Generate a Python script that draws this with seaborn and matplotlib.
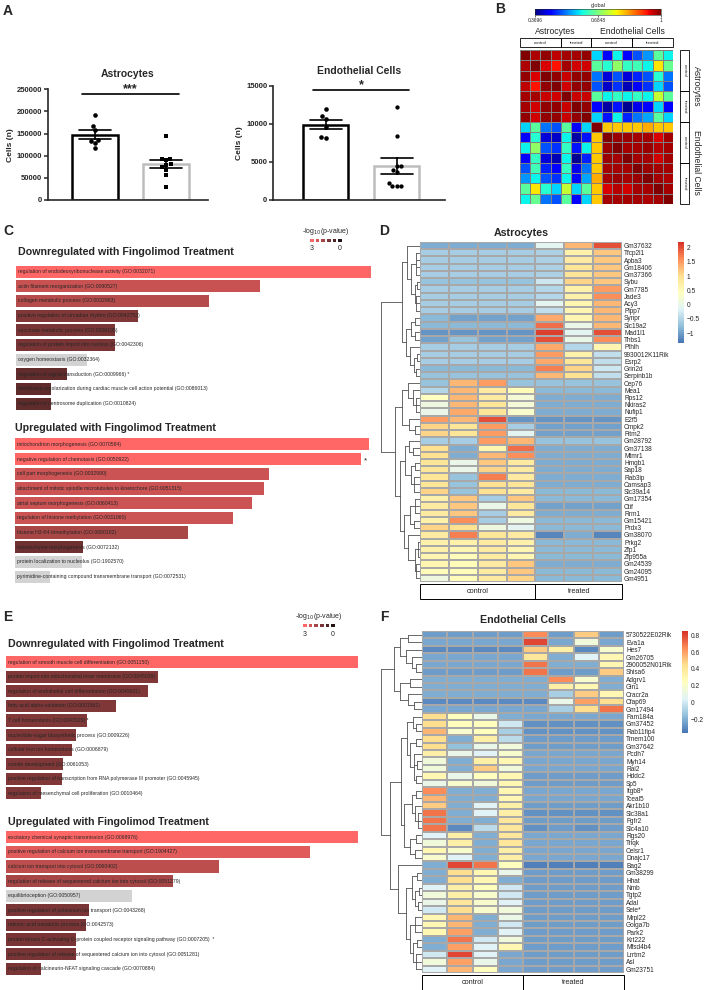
import numpy as np
import pandas as pd
import matplotlib
matplotlib.use("Agg")
import matplotlib.pyplot as plt
import seaborn as sns
from matplotlib.colors import LinearSegmentedColormap
from matplotlib.patches import Rectangle

# --------------------------
# Data
# --------------------------
groups = ["control", "treated"]

# A: cell counts
astro_control = [193000, 167000, 158000, 135000, 133000, 128000, 117000]
astro_treated = [144000, 93000, 93000, 91000, 81000, 80000, 74000, 68000, 57000, 30000]
endo_control = [12000, 11000, 10600, 9600, 8300, 8100]
endo_treated = [12300, 8400, 4500, 4500, 4000, 3700, 2200, 1900, 1800, 1800]
astro_yticks = [0, 50000, 100000, 150000, 200000, 250000]
endo_yticks = [0, 5000, 10000, 15000]

# B: sample correlation (7 astrocyte samples, 8 endothelial samples)
corr_astro = [
    [1.00, 0.975, 0.99, 0.965, 0.98, 0.98, 0.99],
    [0.975, 1.00, 0.95, 0.93, 0.98, 0.955, 0.955],
    [0.99, 0.95, 1.00, 0.99, 0.96, 0.99, 0.99],
    [0.965, 0.93, 0.99, 1.00, 0.955, 0.99, 0.99],
    [0.98, 0.98, 0.96, 0.955, 1.00, 0.96, 0.96],
    [0.98, 0.955, 0.99, 0.99, 0.96, 1.00, 0.99],
    [0.99, 0.955, 0.99, 0.99, 0.96, 0.99, 1.00],
]
corr_cross = [
    [0.58, 0.45, 0.60, 0.45, 0.50, 0.54, 0.66, 0.60],
    [0.66, 0.62, 0.70, 0.63, 0.64, 0.60, 0.79, 0.67],
    [0.52, 0.42, 0.50, 0.42, 0.47, 0.50, 0.62, 0.52],
    [0.50, 0.41, 0.48, 0.40, 0.45, 0.48, 0.58, 0.50],
    [0.66, 0.60, 0.63, 0.60, 0.63, 0.60, 0.74, 0.66],
    [0.45, 0.39, 0.46, 0.38, 0.43, 0.45, 0.58, 0.45],
    [0.58, 0.46, 0.60, 0.47, 0.52, 0.55, 0.66, 0.58],
]
corr_endo = [
    [1.00, 0.81, 0.81, 0.81, 0.81, 0.83, 0.81, 0.81],
    [0.81, 1.00, 0.985, 0.985, 0.98, 0.98, 0.95, 0.98],
    [0.81, 0.985, 1.00, 0.98, 0.98, 0.985, 0.97, 0.98],
    [0.81, 0.985, 0.98, 1.00, 0.98, 0.98, 0.955, 0.98],
    [0.81, 0.98, 0.98, 0.98, 1.00, 0.985, 0.98, 0.98],
    [0.83, 0.98, 0.985, 0.98, 0.985, 1.00, 0.98, 0.975],
    [0.81, 0.95, 0.97, 0.955, 0.98, 0.98, 1.00, 0.98],
    [0.81, 0.98, 0.98, 0.98, 0.98, 0.975, 0.98, 1.00],
]
corr_ticks = [0.3696, 0.6848, 1]

# C / E: GO terms, bar score and -log10(p) (nan = not significant, grey)
c_down_terms = [
    "regulation of endodeoxyribonuclease activity (GO:0032071)",
    "actin filament reorganization (GO:0090527)",
    "collagen metabolic process (GO:0032963)",
    "positive regulation of circadian rhythm (GO:0042753)",
    "succinate metabolic process (GO:0006105)",
    "regulation of protein import into nucleus (GO:0042306)",
    "oxygen homeostasis (GO:0032364)",
    "regulation of signal transduction (GO:0009966) *",
    "membrane repolarization during cardiac muscle cell action potential (GO:0086013)",
    "regulation of centrosome duplication (GO:0010824)",
]
c_down_score = [106.5, 73.1, 58.0, 36.7, 29.7, 29.7, 21.2, 15.2, 10.5, 10.5]
c_down_logp = [3.0, 2.25, 2.0, 1.3, 1.2, 1.2, np.nan, 0.9, 0.85, 0.85]

c_up_terms = [
    "mitochondrion morphogenesis (GO:0070584)",
    "negative regulation of chemotaxis (GO:0050922)",
    "cell part morphogenesis (GO:0032990)",
    "attachment of mitotic spindle microtubules to kinetochore (GO:0051315)",
    "atrial septum morphogenesis (GO:0060413)",
    "regulation of histone methylation (GO:0031060)",
    "histone H3-K4 trimethylation (GO:0080182)",
    "mesenchyme morphogenesis (GO:0072132)",
    "protein localization to nucleolus (GO:1902570)",
    "pyrimidine-containing compound transmembrane transport (GO:0072531)",
]
c_up_score = [106.3, 103.8, 76.4, 74.9, 71.3, 65.6, 52.0, 20.5, 20.1, 10.5]
c_up_logp = [3.0, 3.0, 2.3, 2.3, 2.3, 2.3, 1.85, 1.05, np.nan, np.nan]
c_up_star = [False, True, False, False, False, False, False, False, False, False]

e_down_terms = [
    "regulation of smooth muscle cell differentiation (GO:0051150)",
    "protein import into mitochondrial inner membrane (GO:0045039)",
    "regulation of endothelial cell differentiation (GO:0045601)",
    "fatty acid alpha-oxidation (GO:0001561)",
    "T cell homeostasis (GO:0043029) *",
    "nucleotide-sugar biosynthetic process (GO:0009226)",
    "cellular iron ion homeostasis (GO:0006879)",
    "somite development (GO:0061053)",
    "positive regulation of transcription from RNA polymerase III promoter (GO:0045945)",
    "regulation of mesenchymal cell proliferation (GO:0010464)",
]
e_down_score = [105.7, 45.5, 42.5, 33.1, 24.3, 21.1, 19.7, 17.1, 16.7, 10.4]
e_down_logp = [3.0, 1.3, 1.3, 1.3, 1.3, 1.3, 1.3, 1.3, 1.3, 1.3]

e_up_terms = [
    "excitatory chemical synaptic transmission (GO:0098976)",
    "positive regulation of calcium ion transmembrane transport (GO:1904427)",
    "calcium ion transport into cytosol (GO:0060402)",
    "regulation of release of sequestered calcium ion into cytosol (GO:0051279)",
    "equilibrioception (GO:0050957)",
    "positive regulation of potassium ion transport (GO:0043268)",
    "retinoic acid metabolic process (GO:0042573)",
    "protein kinase C-activating G-protein coupled receptor signaling pathway (GO:0007205)  *",
    "positive regulation of release of sequestered calcium ion into cytosol (GO:0051281)",
    "regulation of calcineurin-NFAT signaling cascade (GO:0070884)",
]
e_up_score = [105.5, 91.2, 63.8, 50.2, 37.8, 24.9, 23.9, 20.9, 20.9, 10.4]
e_up_logp = [3.0, 2.6, 2.1, 1.8, np.nan, 1.2, 1.2, 1.2, 1.2, 1.2]

legend_levels = [3.0, 2.4, 1.8, 1.2, 0.6, 0.0]

# D: astrocyte z-scores (4 control, 3 treated)
d_genes = ["Gm37632", "Tfcp2l1", "Apba3", "Gm18406", "Gm37366", "Sybu", "Gm7785", "Jade3",
           "Acy3", "Plpp7", "Synpr", "Slc19a2", "Mad1l1", "Thbs1", "Pthlh", "9930012K11Rik",
           "Esrp2", "Grin2d", "Serpinb1b", "Cep76", "Mea1", "Rps12", "Nkiras2", "Nufip1",
           "E2f5", "Cmpk2", "Fitm2", "Gm28792", "Gm37138", "Mtmr1", "Hmgb1", "Sap18",
           "Rab3ip", "Camsap3", "Slc39a14", "Gm17354", "Ctif", "Rrm1", "Gm15421", "Prdx3",
           "Gm38070", "Prkg2", "Zfp1", "Zfp955a", "Gm24539", "Gm24095", "Gm4951"]
d_values = [
    [-0.9, -0.9, -0.9, -0.9, -0.1, 1.3, 2.0],
    [-0.6, -0.6, -0.6, -0.6, -0.55, 0.7, 1.2],
    [-0.6, -0.6, -0.6, -0.6, -0.55, 0.8, 1.2],
    [-0.6, -0.6, -0.6, -0.6, -0.55, 0.9, 1.2],
    [-0.6, -0.6, -0.6, -0.6, -0.55, 0.9, 1.2],
    [-0.7, -0.7, -0.7, -0.7, -0.3, 1.1, 1.2],
    [-0.6, -0.6, -0.6, -0.6, -0.5, 0.7, 1.5],
    [-0.6, -0.6, -0.6, -0.6, -0.5, 0.7, 1.6],
    [-0.6, -0.6, -0.6, -0.6, -0.1, 0.6, 1.3],
    [-0.6, -0.6, -0.6, -0.6, -0.4, 0.6, 1.3],
    [-0.8, -1.0, -1.0, -1.0, 1.4, 0.6, 1.3],
    [-0.8, -0.8, -0.8, -0.8, 1.8, 0.0, 1.3],
    [-1.1, -1.1, -1.1, -1.1, 2.1, -0.1, 2.0],
    [-1.0, -0.7, -1.0, -1.0, 2.0, 0.0, 1.6],
    [-0.6, -0.6, -0.6, -0.6, 1.4, -0.5, 0.6],
    [-0.6, -0.6, -0.6, -0.6, 1.5, 0.7, -0.4],
    [-0.6, -0.6, -0.6, -0.6, 1.4, 0.9, -0.4],
    [-0.8, -0.8, -0.8, -0.8, 1.7, 1.1, -0.3],
    [-0.7, -0.7, -0.7, -0.7, 1.3, 1.0, -0.4],
    [-0.7, 1.3, 1.5, -0.7, -0.7, -0.7, -0.7],
    [-0.5, 1.3, 0.8, 0.5, -0.8, -0.8, -0.8],
    [0.4, 1.3, 0.8, 0.2, -0.9, -0.9, -0.9],
    [0.1, 1.3, 0.9, 0.2, -0.9, -0.9, -0.9],
    [0.0, 1.4, 0.9, 0.3, -0.9, -0.9, -0.9],
    [1.5, 1.3, 2.0, -1.1, -1.1, -1.1, -1.1],
    [1.1, 0.9, 1.5, -0.6, -1.0, -1.0, -1.0],
    [1.1, 0.9, 1.5, -0.1, -1.0, -1.0, -1.0],
    [-0.6, -0.6, 1.5, 1.3, -0.7, -0.7, -0.7],
    [1.0, -0.9, 0.6, 1.8, -0.9, -0.9, -0.9],
    [1.0, -0.9, 1.3, 1.6, -0.9, -0.9, -0.9],
    [0.9, 0.0, 1.2, 0.8, -0.9, -0.9, -0.9],
    [0.9, 0.0, 1.1, 0.8, -0.9, -0.9, -0.9],
    [0.9, -0.7, 1.7, 0.8, -0.9, -0.9, -0.9],
    [0.9, -0.7, 1.0, 0.9, -0.9, -0.9, -0.9],
    [1.1, -0.7, 1.0, 0.8, -0.8, -0.8, -0.8],
    [0.7, 1.2, -0.6, 1.2, -0.8, -0.8, -0.8],
    [0.8, 1.2, 0.0, 0.9, -1.0, -1.0, -1.0],
    [0.8, 1.2, -0.6, 0.8, -0.9, -0.9, -0.9],
    [0.7, 1.6, -0.6, 0.1, -0.8, -0.8, -0.8],
    [1.1, 1.0, 0.1, -0.1, -0.8, -0.8, -0.8],
    [0.8, 1.7, 0.9, 0.8, -1.2, -0.9, -1.2],
    [0.7, 0.7, 0.8, 0.7, -0.8, -0.8, -0.8],
    [0.7, 0.6, 0.8, 0.6, -0.8, -0.8, -0.8],
    [0.6, 0.5, 0.8, 0.6, -0.8, -0.8, -0.8],
    [0.6, 0.5, 0.8, 1.2, -0.9, -0.9, -0.9],
    [0.5, 0.5, 0.8, 1.2, -0.8, -0.8, -0.8],
    [0.1, 0.5, 0.8, 1.1, -0.8, -0.8, -0.8],
]
d_ticks = [-1, -0.5, 0, 0.5, 1, 1.5, 2]
# row dendrogram: (merge height, child, child, ...), leaves are row indices
d_tree = (1.0,
          (0.46,
           (0.33, 0, (0.22, (0.1, 1, 2, 3, 4), (0.14, (0.08, 5, 6), (0.1, 7, 8, 9)))),
           (0.36, (0.22, (0.12, 10, 11), (0.12, 12, 13)),
            (0.25, 14, (0.15, (0.08, 15, 16), (0.1, 17, 18))))),
          (0.63,
           (0.45, (0.3, 19, (0.18, 20, (0.1, 21, 22, 23))), (0.28, 24, (0.12, 25, 26))),
           (0.5,
            (0.38, (0.28, 27, (0.18, 28, 29)), (0.22, (0.12, 30, 31), (0.15, 32, 33, 34))),
            (0.4, (0.25, (0.12, 35, 36, 37), (0.15, 38, 39)),
             (0.3, 40, (0.14, (0.06, 41, 42, 43), (0.1, 44, 45, 46)))))))

# F: endothelial z-scores (4 control, 4 treated)
f_genes = ["5730522E02Rik", "Eva1a", "Hes7", "Gm26705", "2900052N01Rik", "Shisa6", "Adgrv1",
           "Gin1", "Cracr2a", "Cfap69", "Gm17494", "Fam184a", "Gm37452", "Rab11fip4",
           "Tmem100", "Gm37642", "Pcdh7", "Myh14", "Rai2", "Hddc2", "Sp5", "Itgb8*", "Tceal5",
           "Akr1b10", "Slc38a1", "Fgfr2", "Slc4a10", "Rgs20", "Triqk", "Celsr1", "Dnajc17",
           "Bag2", "Gm38299", "Hhat", "Nmb", "Tgtp2", "Adal", "Sele*", "Mrpl22", "Golga7b",
           "Park2", "Krt222", "Mfsd4b4", "Lrrtm2", "Asl", "Gm23751"]
f_values = [
    [-0.25, -0.25, -0.25, -0.25, 0.65, -0.25, 0.5, -0.25],
    [-0.22, -0.22, -0.22, -0.22, 0.8, -0.22, 0.15, -0.22],
    [-0.3, -0.3, -0.3, -0.3, 0.5, 0.35, -0.3, 0.2],
    [-0.22, -0.22, -0.22, -0.22, 0.4, -0.2, 0.05, 0.3],
    [-0.22, -0.22, -0.22, -0.22, 0.7, -0.2, -0.2, 0.3],
    [-0.25, -0.25, -0.25, -0.25, 0.7, -0.25, -0.25, 0.5],
    [-0.2, -0.2, -0.2, -0.2, -0.2, 0.65, 0.2, -0.2],
    [-0.2, -0.2, -0.2, -0.2, -0.2, 0.35, 0.3, -0.2],
    [-0.2, -0.2, -0.2, -0.2, -0.2, -0.1, 0.5, 0.3],
    [-0.3, -0.3, -0.3, -0.3, -0.3, 0.1, 0.6, 0.45],
    [-0.22, -0.22, -0.22, -0.22, -0.22, -0.1, 0.45, 0.7],
    [0.45, 0.25, 0.1, -0.2, -0.22, -0.22, -0.22, -0.22],
    [0.45, 0.25, 0.25, 0.0, -0.28, -0.28, -0.28, -0.28],
    [0.55, 0.2, 0.25, -0.1, -0.28, -0.28, -0.28, -0.28],
    [0.45, -0.2, 0.35, -0.05, -0.25, -0.25, -0.25, -0.25],
    [0.45, -0.15, 0.1, 0.15, -0.25, -0.25, -0.25, -0.25],
    [0.35, 0.1, 0.05, 0.2, -0.22, -0.22, -0.22, -0.22],
    [0.15, -0.2, 0.35, 0.3, -0.22, -0.22, -0.22, -0.22],
    [0.15, -0.2, 0.5, 0.15, -0.22, -0.22, -0.22, -0.22],
    [0.3, 0.1, 0.25, 0.3, -0.25, -0.25, -0.25, -0.25],
    [0.1, 0.2, 0.15, 0.3, -0.25, -0.25, -0.25, -0.25],
    [0.65, -0.2, -0.2, 0.3, -0.22, -0.22, -0.22, -0.22],
    [0.55, -0.2, -0.2, 0.3, -0.22, -0.22, -0.22, -0.22],
    [0.5, -0.2, 0.05, 0.35, -0.25, -0.25, -0.25, -0.25],
    [0.7, -0.2, 0.05, 0.35, -0.28, -0.28, -0.28, -0.28],
    [0.7, -0.2, -0.2, 0.4, -0.25, -0.25, -0.25, -0.25],
    [0.7, -0.3, -0.05, 0.4, -0.28, -0.25, -0.28, -0.25],
    [0.05, 0.35, -0.2, 0.4, -0.22, -0.22, -0.22, -0.22],
    [0.15, 0.35, -0.2, 0.4, -0.22, -0.22, -0.22, -0.22],
    [0.3, 0.2, -0.2, 0.35, -0.22, -0.22, -0.22, -0.22],
    [0.2, 0.05, -0.2, 0.35, -0.22, -0.22, -0.22, -0.22],
    [-0.2, 0.8, 0.7, 0.25, -0.33, -0.33, -0.33, -0.33],
    [-0.2, 0.45, 0.3, 0.1, -0.25, -0.25, -0.25, -0.25],
    [-0.2, 0.45, 0.3, -0.2, -0.25, -0.25, -0.25, -0.25],
    [0.05, 0.35, 0.25, 0.0, -0.25, -0.25, -0.25, -0.25],
    [0.15, 0.35, 0.2, 0.0, -0.25, -0.25, -0.25, -0.25],
    [0.1, 0.4, 0.2, 0.05, -0.25, -0.25, -0.25, -0.25],
    [0.0, 0.45, 0.2, 0.15, -0.25, -0.25, -0.25, -0.25],
    [0.3, 0.55, -0.2, 0.1, -0.25, -0.25, -0.25, -0.25],
    [0.3, 0.55, -0.2, 0.0, -0.25, -0.25, -0.25, -0.25],
    [0.3, 0.6, -0.2, 0.05, -0.25, -0.25, -0.25, -0.25],
    [-0.2, 0.7, 0.0, 0.15, -0.25, -0.25, -0.25, -0.25],
    [-0.2, 0.6, 0.05, 0.3, -0.25, -0.25, -0.25, -0.25],
    [0.0, 0.8, 0.05, -0.22, -0.25, -0.25, -0.25, -0.25],
    [0.15, 0.6, 0.1, -0.22, -0.25, -0.25, -0.25, -0.25],
    [0.05, 0.55, 0.25, -0.22, -0.25, -0.25, -0.25, -0.25],
]
f_ticks = [-0.2, 0, 0.2, 0.4, 0.6, 0.8]
f_tree = (1.0,
          (0.69,
           (0.54, (0.35, 0, 1), (0.4, 2, (0.25, 3, (0.15, 4, 5)))),
           (0.54, (0.3, 6, 7), (0.35, 8, (0.2, 9, 10)))),
          (0.78,
           (0.5,
            (0.36, (0.22, 11, (0.15, 12, 13)),
             (0.28, (0.15, 14, 15), (0.2, 16, (0.12, 17, 18), (0.15, 19, 20)))),
            (0.43, (0.25, (0.15, 21, 22), (0.18, 23, (0.1, 24, 25, 26))),
             (0.3, (0.15, 27, 28), (0.18, 29, 30)))),
           (0.59, 31,
            (0.4, (0.25, (0.12, 32, 33), (0.18, (0.08, 34, 35), (0.1, 36, 37))),
             (0.3, (0.18, 38, 39, 40), (0.22, (0.12, 41, 42), (0.15, 43, 44, 45)))))))

# --------------------------
# Figure setup
# --------------------------
sns.set_theme(style="ticks")
plt.rcParams["font.family"] = ["Liberation Sans", "DejaVu Sans"]
W, H = 704, 990
fig = plt.figure(figsize=(W / 100, H / 100), dpi=100)


def px_axes(x0, y0, x1, y1):
    return fig.add_axes([x0 / W, 1 - y1 / H, (x1 - x0) / W, (y1 - y0) / H])


def px_text(x, y, s, **kw):
    fig.text(x / W, 1 - y / H, s, **kw)


pheat_cmap = LinearSegmentedColormap.from_list(
    "pheat", ["#4575B4", "#91BFDB", "#E0F3F8", "#FFFFBF", "#FEE090", "#FC8D59", "#D73027"])
p_cmap = LinearSegmentedColormap.from_list("pval", ["#201414", "#ff6666"])

for letter, x, y in [("A", 8, 11), ("B", 500, 9), ("C", 8, 231), ("D", 384, 231),
                     ("E", 8, 617), ("F", 384, 617)]:
    px_text(x, y, letter, fontsize=10, fontweight="bold", ha="center", va="center")

# --------------------------
# A: cell counts
# --------------------------
def count_panel(ax, ctrl, trt, yticks, title, trt_marker, sig_y, star_y, stars, xlim):
    df = pd.DataFrame({"group": ["control"] * len(ctrl) + ["treated"] * len(trt),
                       "cells": ctrl + trt})
    sns.barplot(data=df, x="group", y="cells", hue="group", order=groups, hue_order=groups,
                palette=["black", "#bdbdbd"], saturation=1, fill=False, width=0.64,
                errorbar="se", capsize=0.45, err_kws={"color": "black", "linewidth": 1.2},
                linewidth=1.8, legend=False, ax=ax)
    sns.swarmplot(data=df[df.group == "control"], x="group", y="cells", order=groups,
                  color="black", size=3.3, marker="o", ax=ax)
    sns.swarmplot(data=df[df.group == "treated"], x="group", y="cells", order=groups,
                  color="black", size=3.1, marker=trt_marker, ax=ax)
    ax.set_xlim(*xlim)
    ax.set_ylim(0, yticks[-1])
    ax.set_xticks([])
    ax.set_xlabel("")
    ax.set_yticks(yticks)
    ax.set_yticklabels([str(v) for v in yticks], fontsize=5.5, fontweight="bold")
    ax.set_ylabel("Cells (n)", fontsize=6, fontweight="bold", labelpad=2)
    ax.tick_params(axis="y", length=3, width=1.1, pad=1)
    sns.despine(ax=ax)
    for sp in ["left", "bottom"]:
        ax.spines[sp].set_linewidth(1.2)
    ax.set_title(title, fontsize=7.5, fontweight="bold", pad=9)
    ax.plot([-0.18, 1.18], [sig_y, sig_y], color="black", lw=1.2, clip_on=False)
    ax.text(0.5, star_y, stars, ha="center", va="center", fontsize=9, fontweight="bold")


ax_a1 = px_axes(48, 89.3, 208, 200)
count_panel(ax_a1, astro_control, astro_treated, astro_yticks, "Astrocytes", "s",
            238700, 250000, "***", (-0.66, 1.59))
ax_a2 = px_axes(273, 86, 445, 200)
count_panel(ax_a2, endo_control, endo_treated, endo_yticks, "Endothelial Cells", "o",
            14470, 15100, "*", (-0.74, 1.68))

# --------------------------
# B: correlation heatmap
# --------------------------
corr = np.block([[np.array(corr_astro), np.array(corr_cross)],
                 [np.array(corr_cross).T, np.array(corr_endo)]])
ax_b = px_axes(520, 50, 673, 204)
cax_b = px_axes(535, 9, 661, 15)
sns.heatmap(corr, cmap="jet", vmin=corr_ticks[0], vmax=1, linewidths=0.7, linecolor="#808080",
            xticklabels=False, yticklabels=False, cbar_ax=cax_b,
            cbar_kws={"orientation": "horizontal"}, ax=ax_b)
cb = ax_b.collections[0].colorbar
cb.set_ticks(corr_ticks)
cb.set_ticklabels([str(t) for t in corr_ticks])
cb.ax.tick_params(labelsize=3.5, length=1.5, width=0.5, pad=1)
cb.outline.set_linewidth(0.4)
px_text(598, 5, "global", fontsize=4, ha="center", va="center")

b_bounds = [0, 4, 7, 11, 15]
b_names = ["control", "treated", "control", "treated"]
for i in range(4):
    a, b = b_bounds[i], b_bounds[i + 1]
    ax_b.add_patch(Rectangle((a, -1.14), b - a, 0.88, fill=False, lw=0.6, ec="black",
                             clip_on=False))
    ax_b.text((a + b) / 2, -0.7, b_names[i], fontsize=3.2, ha="center", va="center")
    ax_b.add_patch(Rectangle((15.69, a), 0.91, b - a, fill=False, lw=0.6, ec="black",
                             clip_on=False))
    ax_b.text(16.15, (a + b) / 2, b_names[i], fontsize=3.2, ha="center", va="center",
              rotation=270)
ax_b.text(3.5, -1.85, "Astrocytes", fontsize=6.2, ha="center", va="center")
ax_b.text(11, -1.85, "Endothelial Cells", fontsize=6.2, ha="center", va="center")
ax_b.text(17.3, 3.5, "Astrocytes", fontsize=6.2, ha="center", va="center", rotation=270)
ax_b.text(17.3, 11, "Endothelial Cells", fontsize=6.2, ha="center", va="center", rotation=270)

# --------------------------
# C / E: GO term bars
# --------------------------
def term_bars(box, terms, score, logp, star_after=None):
    ax = px_axes(*box)
    colors = ["#d3d3d3" if np.isnan(v) else p_cmap(v / 3) for v in logp]
    sns.barplot(x=score, y=terms, hue=terms, palette=colors, saturation=1, orient="h",
                width=0.83, legend=False, linewidth=0, ax=ax)
    ax.set_xlim(0, max(score))
    ax.set_ylim(len(terms) - 0.5, -0.5)
    ax.axis("off")
    for i, t in enumerate(terms):
        ax.text(max(score) * 0.006, i, t, fontsize=3.7, va="center", ha="left")
        if star_after is not None and star_after[i]:
            ax.text(score[i] + max(score) * 0.01, i + 0.15, "*", fontsize=6, va="center")
    return ax


def p_legend(box, text_xy, lab3, lab0):
    ax = px_axes(*box)
    sns.heatmap([legend_levels], cmap=p_cmap, vmin=0, vmax=3, cbar=False, linewidths=0.3,
                linecolor="white", xticklabels=False, yticklabels=False, ax=ax)
    px_text(text_xy[0], text_xy[1], "-log$_{10}$(p-value)", fontsize=5, ha="center",
            va="center")
    px_text(lab3[0], lab3[1], "3", fontsize=5, ha="center", va="center")
    px_text(lab0[0], lab0[1], "0", fontsize=5, ha="center", va="center")


px_text(18, 252, "Downregulated with Fingolimod Treatment", fontsize=7.7, fontweight="bold",
        va="center")
term_bars((16, 264.3, 371, 411), c_down_terms, c_down_score, c_down_logp)
px_text(15, 428, "Upregulated with Fingolimod Treatment", fontsize=7.7, fontweight="bold",
        va="center")
term_bars((15, 437, 369, 584), c_up_terms, c_up_score, c_up_logp, c_up_star)
p_legend((309, 238, 343, 243), (326, 231), (312, 248), (340, 248))

px_text(8, 644, "Downregulated with Fingolimod Treatment", fontsize=7.7, fontweight="bold",
        va="center")
term_bars((6, 655, 358, 800.6), e_down_terms, e_down_score, e_down_logp)
px_text(8, 822, "Upregulated with Fingolimod Treatment", fontsize=7.7, fontweight="bold",
        va="center")
term_bars((6, 830, 358, 976), e_up_terms, e_up_score, e_up_logp)
p_legend((302, 623, 336, 628), (319, 617), (305, 634), (333, 634))

# --------------------------
# D / F: gene heatmaps with row dendrograms
# --------------------------
def draw_tree(ax, node):
    if isinstance(node, int):
        return node + 0.5, 0.0
    h = node[0]
    kids = [draw_tree(ax, c) for c in node[1:]]
    ys = [k[0] for k in kids]
    for y, kh in kids:
        ax.plot([kh, h], [y, y], color="#505050", lw=0.6)
    ax.plot([h, h], [min(ys), max(ys)], color="#505050", lw=0.6)
    return (min(ys) + max(ys)) / 2, h


def gene_heatmap(hm_box, dend_box, cb_box, genes, values, vmin, vmax, ticks, tree, title,
                 title_pad, n_ctrl):
    ax = px_axes(*hm_box)
    cax = px_axes(*cb_box)
    df = pd.DataFrame(values, index=genes)
    sns.heatmap(df, cmap=pheat_cmap, vmin=vmin, vmax=vmax, linewidths=0.3,
                linecolor="#a8a8a8", xticklabels=False, yticklabels=genes, cbar_ax=cax, ax=ax)
    ax.yaxis.tick_right()
    ax.tick_params(axis="y", length=0, pad=1.5, labelsize=4.7, labelrotation=0)
    ax.set_title(title, fontsize=7.7, fontweight="bold", pad=title_pad)
    cb = ax.collections[0].colorbar
    cb.set_ticks(ticks)
    cb.set_ticklabels([f"{t:g}".replace("-", "\u2212") for t in ticks])
    cb.ax.tick_params(length=0, labelsize=4.8, pad=2)
    cb.outline.set_visible(False)

    n_rows, n_cols = df.shape
    row_px = (hm_box[3] - hm_box[1]) / n_rows
    y0 = n_rows + 2.0 / row_px
    hgt = 14.5 / row_px
    for a, b, name in [(0, n_ctrl, "control"), (n_ctrl, n_cols, "treated")]:
        ax.add_patch(Rectangle((a, y0), b - a, hgt, fill=False, lw=0.7, ec="black",
                               clip_on=False))
        ax.text((a + b) / 2, y0 + hgt / 2, name, fontsize=5.3, ha="center", va="center")

    axd = px_axes(*dend_box)
    draw_tree(axd, tree)
    axd.set_xlim(1.02, 0)
    axd.set_ylim(n_rows, 0)
    axd.axis("off")


gene_heatmap((420, 242, 622, 582), (380, 242, 420, 582), (678, 242, 684, 343),
             d_genes, d_values, -1.35, 2.2, d_ticks, d_tree, "Astrocytes", 4, 4)
gene_heatmap((422, 631, 624, 973), (380, 631, 422, 973), (682, 631, 688, 733),
             f_genes, f_values, -0.36, 0.85, f_ticks, f_tree, "Endothelial Cells", 6, 4)

fig.savefig("out.png", dpi=100)
